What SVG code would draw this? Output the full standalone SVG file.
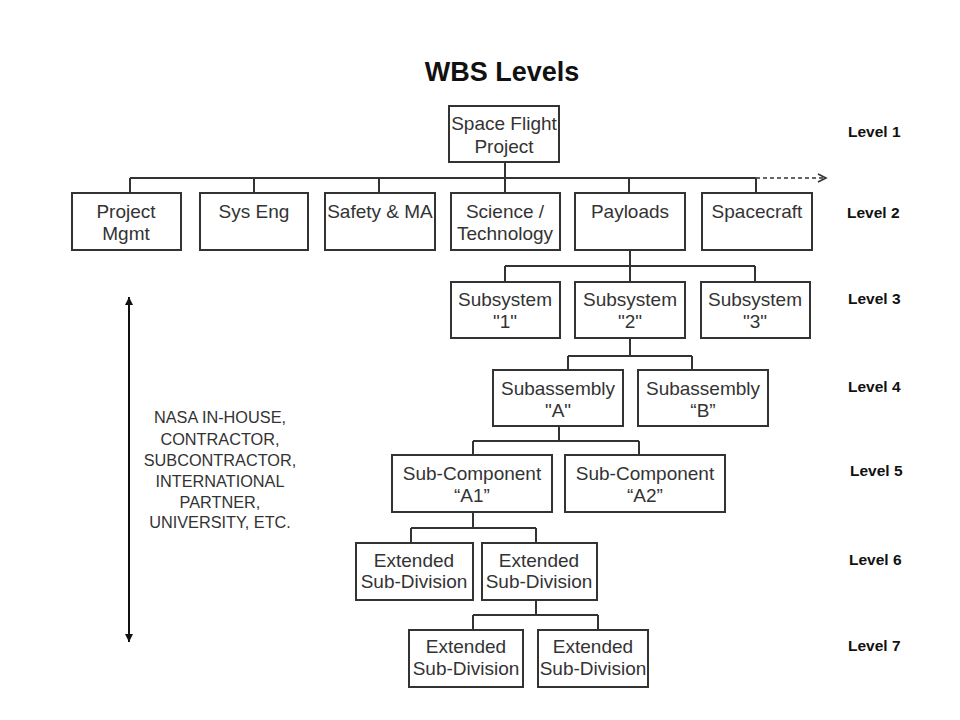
<svg xmlns="http://www.w3.org/2000/svg" width="960" height="720" viewBox="0 0 960 720">
<style>
.box{fill:#fff;stroke:#333;stroke-width:2}
.t{font-family:"Liberation Sans",Arial,sans-serif;font-size:19px;fill:#333;text-anchor:middle}
.lv{font-family:"Liberation Sans",Arial,sans-serif;font-size:15.5px;font-weight:bold;fill:#111}
.note{font-family:"Liberation Sans",Arial,sans-serif;font-size:16.3px;fill:#333;text-anchor:middle}
.ln{fill:none;stroke:#333;stroke-width:2}
</style>
<defs>
<marker id="open" markerWidth="12" markerHeight="12" refX="10" refY="5" orient="auto" markerUnits="userSpaceOnUse">
<path d="M2,1 L10,5 L2,9" fill="none" stroke="#333" stroke-width="1.6"/>
</marker>
<marker id="fill" markerWidth="10" markerHeight="10" refX="8" refY="4" orient="auto-start-reverse" markerUnits="userSpaceOnUse">
<path d="M0,0 L8,4 L0,8 Z" fill="#111"/>
</marker>
</defs>
<rect width="960" height="720" fill="#fff"/>
<text x="502" y="81" style="font-family:'Liberation Sans',Arial,sans-serif;font-size:27px;font-weight:bold;fill:#111" text-anchor="middle">WBS Levels</text>

<g id="connectors">
<path class="ln" d="M505,162 V193 M130,178 H756 M130,178 V193 M254,178 V193 M379,178 V193 M629,178 V193 M756,178 V193"/>
<path d="M756,178 H826" fill="none" stroke="#333" stroke-width="1.6" stroke-dasharray="4,3" marker-end="url(#open)"/>
<path class="ln" d="M630,250 V282 M505,266 H755 M505,266 V282 M755,266 V282"/>
<path class="ln" d="M630,338 V356 M568,356 H692 M568,356 V370 M692,356 V370"/>
<path class="ln" d="M559,426 V441 M473,441 H639 M473,441 V455 M639,441 V455"/>
<path class="ln" d="M473,512 V528 M411,528 H536 M411,528 V543 M536,528 V543"/>
<path class="ln" d="M536,600 V615 M473,615 H598 M473,615 V630 M598,615 V630"/>
<path d="M129,297 V642" fill="none" stroke="#111" stroke-width="2" marker-start="url(#fill)" marker-end="url(#fill)"/>
</g>

<g id="n-root"><rect class="box" x="449" y="106" width="110" height="56"/><text class="t" x="504" y="130">Space Flight</text><text class="t" x="504" y="153">Project</text></g>

<g id="n-pm"><rect class="box" x="72" y="193" width="109" height="57"/><text class="t" x="126" y="218">Project</text><text class="t" x="126" y="240">Mgmt</text></g>
<g id="n-se"><rect class="box" x="200" y="193" width="108" height="57"/><text class="t" x="254" y="218">Sys Eng</text></g>
<g id="n-sma"><rect class="box" x="325" y="193" width="110" height="57"/><text class="t" x="380" y="218">Safety &amp; MA</text></g>
<g id="n-sci"><rect class="box" x="451" y="193" width="109" height="57"/><text class="t" x="505" y="218">Science /</text><text class="t" x="505" y="240">Technology</text></g>
<g id="n-pay"><rect class="box" x="575" y="193" width="110" height="57"/><text class="t" x="630" y="218">Payloads</text></g>
<g id="n-sc"><rect class="box" x="702" y="193" width="110" height="57"/><text class="t" x="757" y="218">Spacecraft</text></g>

<g id="n-sub1"><rect class="box" x="451" y="282" width="109" height="56"/><text class="t" x="505" y="306">Subsystem</text><text class="t" x="505" y="328">"1"</text></g>
<g id="n-sub2"><rect class="box" x="575" y="282" width="110" height="56"/><text class="t" x="630" y="306">Subsystem</text><text class="t" x="630" y="328">"2"</text></g>
<g id="n-sub3"><rect class="box" x="701" y="282" width="109" height="56"/><text class="t" x="755" y="306">Subsystem</text><text class="t" x="755" y="328">"3"</text></g>

<g id="n-saA"><rect class="box" x="493" y="370" width="130" height="56"/><text class="t" x="558" y="395">Subassembly</text><text class="t" x="558" y="417">"A"</text></g>
<g id="n-saB"><rect class="box" x="638" y="370" width="130" height="56"/><text class="t" x="703" y="395">Subassembly</text><text class="t" x="703" y="417">“B”</text></g>

<g id="n-scA1"><rect class="box" x="392" y="455" width="160" height="57"/><text class="t" x="472" y="480">Sub-Component</text><text class="t" x="472" y="502">“A1”</text></g>
<g id="n-scA2"><rect class="box" x="565" y="455" width="160" height="57"/><text class="t" x="645" y="480">Sub-Component</text><text class="t" x="645" y="502">“A2”</text></g>

<g id="n-ext1"><rect class="box" x="356" y="543" width="117" height="57"/><text class="t" x="414" y="567">Extended</text><text class="t" x="414" y="588">Sub-Division</text></g>
<g id="n-ext2"><rect class="box" x="482" y="543" width="115" height="57"/><text class="t" x="539" y="567">Extended</text><text class="t" x="539" y="588">Sub-Division</text></g>
<g id="n-ext3"><rect class="box" x="409" y="630" width="114" height="57"/><text class="t" x="466" y="653">Extended</text><text class="t" x="466" y="675">Sub-Division</text></g>
<g id="n-ext4"><rect class="box" x="538" y="630" width="110" height="57"/><text class="t" x="593" y="653">Extended</text><text class="t" x="593" y="675">Sub-Division</text></g>

<g id="note">
<text class="note" x="220" y="423">NASA IN-HOUSE,</text>
<text class="note" x="220" y="445">CONTRACTOR,</text>
<text class="note" x="220" y="466">SUBCONTRACTOR,</text>
<text class="note" x="220" y="487">INTERNATIONAL</text>
<text class="note" x="220" y="508">PARTNER,</text>
<text class="note" x="220" y="528">UNIVERSITY, ETC.</text>
</g>

<g id="levels">
<text class="lv" x="848" y="137">Level 1</text>
<text class="lv" x="847" y="218">Level 2</text>
<text class="lv" x="848" y="304">Level 3</text>
<text class="lv" x="848" y="392">Level 4</text>
<text class="lv" x="850" y="476">Level 5</text>
<text class="lv" x="849" y="565">Level 6</text>
<text class="lv" x="848" y="651">Level 7</text>
</g>
</svg>
